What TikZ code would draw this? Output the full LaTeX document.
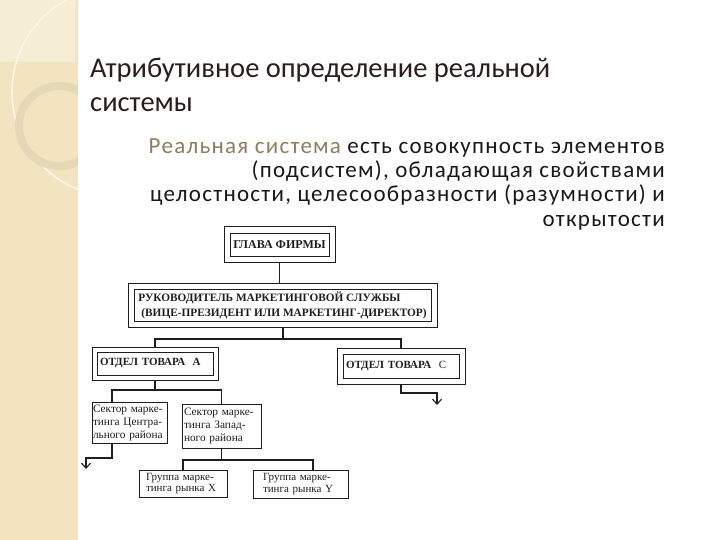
\documentclass[tikz,border=0pt]{standalone}
\usepackage{fontspec}
\setmainfont{Liberation Serif}
\newfontfamily\calfont{Carlito}
\newfontfamily\bodyfont[LetterSpace=5.5]{Carlito}
\usetikzlibrary{arrows.meta}
\definecolor{stripc}{RGB}{241,228,191}
\definecolor{stripl}{RGB}{246,237,213}
\definecolor{ringc}{RGB}{228,216,183}
\definecolor{arcc}{RGB}{250,245,230}
\definecolor{titlec}{RGB}{45,28,28}
\definecolor{tanc}{RGB}{142,125,96}
\definecolor{bodyc}{RGB}{25,25,25}
\definecolor{ink}{RGB}{30,30,30}
\tikzset{
  box/.style={draw=ink, line width=1pt, inner sep=0pt, text=ink},
  dbox/.style={box, path picture={\draw[ink,line width=0.9pt]
      ([shift={(#1,-#1)}]path picture bounding box.north west) rectangle
      ([shift={(-#1,#1)}]path picture bounding box.south east);}},
  wire/.style={draw=ink, line width=1.1pt},
  arrowend/.style={-{Straight Barb[length=5pt,width=9pt,line width=1.1pt]}},
  capsf/.style={font=\bfseries\fontsize{11}{15}\selectfont},
  smallf/.style={font=\fontsize{11.3}{13}\selectfont},
  groupf/.style={font=\fontsize{11}{11.5}\selectfont},
  bodyf/.style={anchor=base east, inner sep=0pt, text=bodyc, font=\bodyfont\fontsize{23}{24}\selectfont}
}
\begin{document}
\begin{tikzpicture}[x=1pt,y=-1pt]
\useasboundingbox (0,0) rectangle (720,540);
\fill[white] (0,0) rectangle (720,540);
\fill[stripc] (0,0) rectangle (78,540);
\begin{scope}
  \clip (0,0) rectangle (78,540);
  \fill[stripl] (0,0) rectangle (75,62);
  \draw[arcc, line width=1.6pt] (117,92) circle[radius=105pt];
  \draw[ringc, line width=8pt] (59,126) circle[radius=40pt];
\end{scope}

% title
\node[anchor=base west, inner sep=0pt, text=titlec, font=\calfont\fontsize{28.5}{33}\selectfont] (t1) at (90,78) {Атрибутивное определение реальной};
\node[anchor=base west, inner sep=0pt, text=titlec, font=\calfont\fontsize{28.5}{33}\selectfont] (t2) at (90,112) {системы};

% body
\node[bodyf] (b1) at (665,154) {\textcolor{tanc}{Реальная система} есть совокупность элементов};
\node[bodyf] (b2) at (665,178) {(подсистем), обладающая свойствами};
\node[bodyf] (b3) at (665,202) {целостности, целесообразности (разумности) и};
\node[bodyf] (b4) at (665,226) {открытости};

% boxes
\node[dbox=6pt, font=\bfseries\fontsize{12}{14}\selectfont, minimum width=111pt, minimum height=35pt] (glava) at (279.5,244.5) {ГЛАВА ФИРМЫ};
\node[dbox=6pt, font=\bfseries\fontsize{11.3}{15}\selectfont, align=left, minimum width=309pt, minimum height=44pt] (ruk) at (282.5,305)
  {РУКОВОДИТЕЛЬ МАРКЕТИНГОВОЙ СЛУЖБЫ\\\hspace*{3pt}(ВИЦЕ-ПРЕЗИДЕНТ ИЛИ МАРКЕТИНГ-ДИРЕКТОР)};
\node[dbox=5pt, capsf, text width=110pt, align=left, minimum width=126pt, minimum height=33pt] (ota) at (155,363.5) {ОТДЕЛ ТОВАРА\ \ А};
\node[dbox=6pt, capsf, text width=110pt, align=left, minimum width=128pt, minimum height=36pt] (otc) at (401,366) {ОТДЕЛ ТОВАРА\ \ {\mdseries С}};
\node[box, smallf, text width=73pt, align=left, minimum width=75pt, minimum height=41pt] (s1) at (129.5,423) {Сектор марке-\\тинга Центра-\\льного района};
\node[box, smallf, text width=75pt, align=left, minimum width=79pt, minimum height=44pt] (s2) at (221.5,426) {Сектор марке-\\тинга Запад-\\ного района};
\node[box, groupf, text width=74pt, align=left, minimum width=88pt, minimum height=27pt] (gx) at (183,483.5) {Группа марке-\\тинга рынка X};
\node[box, groupf, text width=75pt, align=left, minimum width=95pt, minimum height=28pt] (gy) at (300.5,484) {Группа марке-\\тинга рынка Y};

% connectors
\draw[wire] (glava.south) -- (glava.south |- ruk.north);
\coordinate (j1) at (283,339);
\draw[wire] (ruk.south -| j1) -- (j1);
\draw[wire] (ota.north) |- (j1) -| (otc.north);
\coordinate (ck) at (437,393);
\coordinate (ce) at (437,405);
\draw[wire, arrowend] (otc.south) |- (ck) -- (ce);
\coordinate (ak) at (112,390);
\draw[wire] (ota.south) -- (ota.south |- ak);
\draw[wire] (ak |- s1.north) -- (ak) -| (s2.north);
\coordinate (s1b) at (112,458);
\coordinate (s1e) at (86,469);
\draw[wire, arrowend] (s1.south -| s1b) -- (s1b) -| (s1e);
\coordinate (gk) at (313,460);
\draw[wire] (s2.south) -- (s2.south |- gk);
\draw[wire] (gx.north) |- (gk) -- (gk |- gy.north);
\end{tikzpicture}
\end{document}
